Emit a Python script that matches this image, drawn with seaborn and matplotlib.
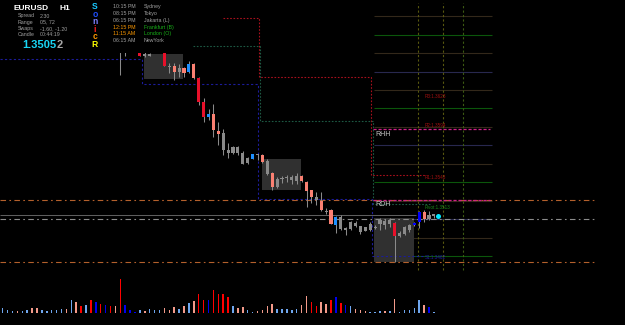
import matplotlib
matplotlib.use("Agg")
import numpy as np
import pandas as pd
import matplotlib.pyplot as plt
from matplotlib.patches import Rectangle
import seaborn as sns

# ---------------- data ----------------
symbol = "EURUSD"
timeframe = "H1"
bid_main = "1.3505"
bid_last = "2"
info_labels = ["Spread", "Range", "Swaps", "Candle"]
info_values = ["2.30", "05, 72", "-1.60, -1.20", "00:44:19"]
sonic_letters = ["S", "o", "n", "i", "c", "R"]
session_times = ["10:15 PM", "08:15 PM", "06:15 PM", "12:15 PM", "11:15 AM", "06:15 AM"]
session_names = ["Sydney", "Tokyo", "Jakarta (L)", "Frankfurt (B)", "London (O)", "NewYork"]
session_active = [False, False, False, True, True, False]

# tick volume per bar (bar index 0..88)
volume = [500, 270, 230, 170, 200, 270, 500, 500, 270, 230, 270, 330, 400, 400, 1300,
          1070, 670, 830, 1330, 1100, 870, 800, 730, 730, 3400, 830, 330, 100, 270, 230,
          400, 270, 330, 500, 330, 600, 430, 730, 1000, 1170, 1930, 1330, 1330, 2330, 1930,
          1930, 1600, 670, 500, 600, 270, 130, 200, 270, 670, 870, 400, 400, 400, 270,
          400, 830, 1730, 1130, 670, 1130, 930, 1330, 1600, 1030, 830, 670, 430, 330, 200,
          130, 100, 200, 200, 200, 1430, 130, 270, 330, 530, 1330, 830, 570, 130]
u, d, U, D = "up", "down", "up_climax", "down_climax"
volume_type = [u, u, u, d, u, u, d, d, u, u, u, u, u, d, u,
               d, D, u, D, U, D, U, D, d, D, U, U, U, u, d,
               u, u, u, d, d, d, u, d, u, d, D, D, U, D, D,
               D, D, u, d, d, u, u, d, d, d, d, u, u, u, u,
               u, d, d, D, D, d, d, D, U, D, U, u, d, d, d,
               u, u, u, d, u, d, u, u, u, u, u, d, U, u]

# visible candles start at bar 24 (earlier bars lie above the visible price range)
candle_first = 24
nan = np.nan
c_open = [1.3684, 1.3674, nan, nan, 1.3676, 1.36655, 1.3666, nan, nan, 1.3672,
          1.3654, 1.3654, 1.3648, 1.3652, 1.3648, 1.3656, 1.3642, 1.3618, 1.3603, 1.3606,
          1.35895, 1.3587, 1.3570, 1.3567, 1.3573, 1.3567, 1.3557, 1.3561, 1.3566, 1.3565,
          1.3559, 1.3547, 1.3533, 1.3541, 1.3542, 1.3540, 1.3539, 1.3544, 1.3538, 1.3530,
          1.3523, 1.3519, 1.3509, 1.3510, 1.3495, 1.3503, 1.3491, 1.3491, 1.3497, 1.3494,
          1.3489, 1.3490, 1.34935, 1.3496, 1.3495, 1.3496, 1.3497, 1.3487, 1.3486, 1.3490,
          1.3495, 1.3498, 1.3508, 1.3501, 1.35045]
c_high = [1.3686, 1.3676, nan, nan, 1.3678, 1.3668, 1.3667, nan, nan, 1.3673,
          1.3657, 1.3657, 1.3656, 1.3653, 1.3659, 1.3657, 1.3643, 1.3622, 1.3611, 1.3616,
          1.3598, 1.3591, 1.3577, 1.3574, 1.3574, 1.3569, 1.3563, 1.3566, 1.3566, 1.3566,
          1.3561, 1.3548, 1.3543, 1.3544, 1.3545, 1.3545, 1.3547, 1.3545, 1.3539, 1.3530,
          1.3528, 1.3528, 1.3512, 1.3511, 1.3504, 1.3505, 1.3493, 1.3499, 1.3499, 1.3494,
          1.3493, 1.3498, 1.3495, 1.3502, 1.3501, 1.3502, 1.3498, 1.3489, 1.3494, 1.3496,
          1.3498, 1.3509, 1.3510, 1.3509, 1.3506]
c_low = [1.3645, 1.3664, nan, nan, 1.3664, 1.3663, 1.3664, nan, nan, 1.3654,
         1.3647, 1.3640, 1.3643, 1.3643, 1.3647, 1.3641, 1.3615, 1.3598, 1.3600, 1.3583,
         1.3575, 1.3565, 1.3562, 1.3566, 1.3565, 1.3556, 1.3556, 1.3561, 1.3560, 1.3557,
         1.3545, 1.3530, 1.3532, 1.3537, 1.3538, 1.3536, 1.3536, 1.3538, 1.3513, 1.3517,
         1.3515, 1.3509, 1.3506, 1.3496, 1.3487, 1.3490, 1.3485, 1.3490, 1.3493, 1.3486,
         1.3489, 1.3489, 1.3491, 1.3490, 1.3491, 1.3493, 1.3458, 1.3483, 1.3485, 1.3488,
         1.3494, 1.3492, 1.3498, 1.3500, 1.3502]
c_close = [1.3670, 1.3670, nan, nan, 1.3664, 1.36645, 1.36645, nan, nan, 1.3654,
           1.3653, 1.3648, 1.3652, 1.3647, 1.3656, 1.3642, 1.3618, 1.3603, 1.3606, 1.3590,
           1.3586, 1.3570, 1.3567, 1.3573, 1.3567, 1.3556, 1.3562, 1.3566, 1.3565, 1.3558,
           1.3546, 1.3533, 1.3541, 1.3542, 1.3543, 1.3543, 1.3544, 1.3539, 1.3529, 1.3523,
           1.3520, 1.3510, 1.3508, 1.3496, 1.3503, 1.3491, 1.34905, 1.3498, 1.3494, 1.3488,
           1.3493, 1.3496, 1.3492, 1.3500, 1.3499, 1.3500, 1.3484, 1.34845, 1.3493, 1.3495,
           1.34975, 1.3508, 1.3501, 1.3505, 1.35052]
n_, rb, cb, ru, cu = "normal", "bear_rising", "bear_climax", "bull_rising", "bull_climax"
candle_type = [cb, n_, n_, n_, cb, n_, n_, n_, n_, cb,
               n_, rb, n_, rb, ru, rb, cb, cb, ru, rb,
               rb, n_, n_, n_, n_, n_, n_, ru, n_, rb,
               n_, rb, n_, n_, n_, n_, n_, rb, rb, rb,
               n_, rb, n_, rb, ru, n_, n_, n_, n_, n_,
               n_, n_, n_, n_, n_, n_, cb, n_, n_, n_,
               cu, cu, rb, n_, n_]

# day boundaries (bar units) and daily reference levels
low_edges = [-0.55, 28.5, 52.1, 75.4, 86.2]
low_levels = [1.3661, 1.3636, 1.3521, 1.34645]
high_edges = [45.0, 52.3, 75.2, 86.2]
high_levels = [1.3702, 1.3643, 1.3545]
close_edges = [38.8, 52.5, 75.6, 87.2]
close_levels = [1.3674, 1.35993, 1.3516]

# session boxes: start bar, end bar, low, high
box_start = [28.9, 52.9, 75.8]
box_end = [36.8, 60.9, 83.9]
box_low = [1.3641, 1.3530, 1.3458]
box_high = [1.3666, 1.3561, 1.3502]

# right-hand level grid
grid_levels = [1.3704, 1.36855, 1.3667, 1.36485, 1.36302, 1.36117, 1.35932,
               1.35748, 1.35563, 1.35379, 1.35194, 1.35009, 1.34825, 1.3464]
grid_start, grid_end = 75.8, 99.9
magenta_levels = [1.35907, 1.35197]
orange_levels = [1.35205, 1.34577]
bid_price = 1.35052
ask_line = 1.35007
future_times = [84.8, 89.9, 93.9]
pivot_labels = ["R3:1.3623", "R2:1.3594", "R1:1.3543", "Pivot:1.3513", "S1:1.3462"]
pivot_label_prices = [1.36233, 1.35943, 1.35427, 1.35127, 1.34623]
pivot_label_kind = ["r", "r", "r", "p", "s"]
marker_bar, marker_price = 88.9, 1.35043

# ---------------- style ----------------
sns.set_theme(style="dark")
plt.rcParams["font.family"] = ["Liberation Sans", "DejaVu Sans"]

W, H = 625, 325
fig = plt.figure(figsize=(6.25, 3.25), dpi=100, facecolor="black")
TOP_PX = 272
ax = fig.add_axes([0, (H - TOP_PX) / H, 1, TOP_PX / H])
ax.set_facecolor("black")
xlim = (-2.7 / 4.9, (W - 2.7) / 4.9)
ax.set_xlim(*xlim)
ax.set_ylim(1.3720 - 0.0272, 1.3720)
ax.axis("off")

# grid on the right
grid_cols = ["#33281a", "#0b560b", "#33281a", "#28284f"]
for k, lv in enumerate(grid_levels):
    ax.hlines(lv, grid_start, grid_end, color=grid_cols[k % 4], lw=0.8, zorder=1)
for k, t in enumerate(future_times):
    ax.vlines(t, 1.3450, 1.3717, color="#58580f" if k < 2 else "#3c5a12",
              lw=0.8, linestyle=(0, (2, 2)), zorder=1)

# session boxes
for s, e, lo, hi in zip(box_start, box_end, box_low, box_high):
    ax.add_patch(Rectangle((s, lo), e - s, hi - lo, facecolor="#303030",
                           edgecolor="none", zorder=1.5))

# full-width lines
for lv in orange_levels:
    ax.hlines(lv, xlim[0], 121.1, color="#b4602c", lw=0.8,
              linestyle=(0, (5, 3, 1.5, 3)), zorder=2)
ax.hlines(ask_line, xlim[0], 121.1, color="#8c8c8c", lw=0.8,
          linestyle=(0, (5, 3, 1.5, 3)), zorder=2)
ax.hlines(bid_price, xlim[0], 84.4, color="#5e5e5e", lw=0.75, zorder=2)
for lv in magenta_levels:
    ax.hlines(lv, 75.6, 99.5, color="#d0208a", lw=0.9, linestyle=(0, (2.5, 1.5)), zorder=2.2)

# daily step lines
ax.stairs(low_levels, low_edges, baseline=None, color="#1c1c9a", lw=0.8,
          linestyle=(0, (2, 2)), zorder=2.1)
ax.stairs(high_levels, high_edges, baseline=None, color="#a8101c", lw=0.8,
          linestyle=(0, (1.5, 1.5)), zorder=2.1)
ax.stairs(close_levels, close_edges, baseline=None, color="#1d5a44", lw=0.8,
          linestyle=(0, (1.5, 1.5)), zorder=2.1)

# candles
cdf = pd.DataFrame({"open": c_open, "high": c_high, "low": c_low, "close": c_close,
                    "kind": candle_type})
cdf["bar"] = np.arange(len(cdf)) + candle_first
cdf = cdf.dropna()
body_col = {"normal": "#8a8a8a", "bear_rising": "#fa8072", "bear_climax": "#e8102a",
            "bull_rising": "#1e90ff", "bull_climax": "#0000ff"}
ax.vlines(cdf["bar"], cdf["low"], cdf["high"], color="#8a8a8a", lw=0.75, zorder=3)
body_lo = np.minimum(cdf["open"], cdf["close"])
body_h = np.maximum(np.abs(cdf["close"] - cdf["open"]), 0.00012)
ax.bar(cdf["bar"], body_h, bottom=body_lo, width=0.62,
       color=[body_col[k] for k in cdf["kind"]], linewidth=0, zorder=3.5)

ax.plot([marker_bar], [marker_price], "o", color="#00e8ff", ms=3.6, mew=0, zorder=4)

# black panel behind the header text
ax.add_patch(Rectangle((0, (TOP_PX - 53) / TOP_PX), 193 / W, 53 / TOP_PX,
                       transform=ax.transAxes, facecolor="black", edgecolor="none", zorder=5))

# level labels
lab_col = {"r": "#a01010", "p": "#1a8a1a", "s": "#2020a0"}
for t, p, kd in zip(pivot_labels, pivot_label_prices, pivot_label_kind):
    ax.text(86.2, p, t, color=lab_col[kd], fontsize=3.3, va="center", ha="left", zorder=6)
ax.text(76.0, 1.35855, "RHH", color="#c8c8c8", fontsize=5, va="center", ha="left", zorder=6)
ax.text(76.0, 1.35155, "RDH", color="#c8c8c8", fontsize=5, va="center", ha="left", zorder=6)

# volume panel
axv = fig.add_axes([0, (H - 313) / H, 1, 37 / H])
vdf = pd.DataFrame({"bar": np.arange(len(volume)), "vol": volume, "kind": volume_type})
vol_pal = {"up": "#6fa6ee", "down": "#f39a8a", "up_climax": "#0000f0", "down_climax": "#ff0000"}
sns.barplot(data=vdf, x="bar", y="vol", hue="kind", palette=vol_pal, native_scale=True,
            width=0.32, dodge=False, legend=False, errorbar=None, saturation=1,
            linewidth=0, ax=axv)
axv.set_xlim(*xlim)
axv.set_ylim(0, 3700)
axv.set_facecolor("none")
axv.axis("off")

# header text
def ftxt(x, y, s, **kw):
    fig.text(x / W, 1 - y / H, s, va="center", ha="left", **kw)

ftxt(14, 8, symbol, color="white", fontsize=6, fontweight="bold")
ftxt(59, 8, timeframe, color="white", fontsize=6, fontweight="bold")
for k, (lab, val) in enumerate(zip(info_labels, info_values)):
    yy = 16 + 6.2 * k
    ftxt(18, yy, lab, color="#a0a0a0", fontsize=3.8)
    ftxt(40, yy, val, color="#a0a0a0", fontsize=3.8)
ftxt(22, 45, bid_main, color="#19d6f5", fontsize=8, fontweight="bold")
ftxt(56.5, 45, bid_last, color="#a8a8a8", fontsize=8, fontweight="bold")

sonic_cols = ["#19c8ff", "#1f4fff", "#7f7fff", "#ff2020", "#ff9a00", "#ffff00"]
for k, (ch, col) in enumerate(zip(sonic_letters, sonic_cols)):
    fig.text(95 / W, 1 - (6.8 + 7.5 * k) / H, ch, color=col, fontsize=6.2,
             fontweight="bold", ha="center", va="center")

for k, (tm, nm, act) in enumerate(zip(session_times, session_names, session_active)):
    yy = 6.7 + 6.8 * k
    ftxt(113, yy, tm, color="#ff9a00" if act else "#a0a0a0", fontsize=3.8)
    ftxt(144, yy, nm, color="#18b018" if act else "#a0a0a0", fontsize=3.8)

fig.savefig("out.png", dpi=100, facecolor="black")
